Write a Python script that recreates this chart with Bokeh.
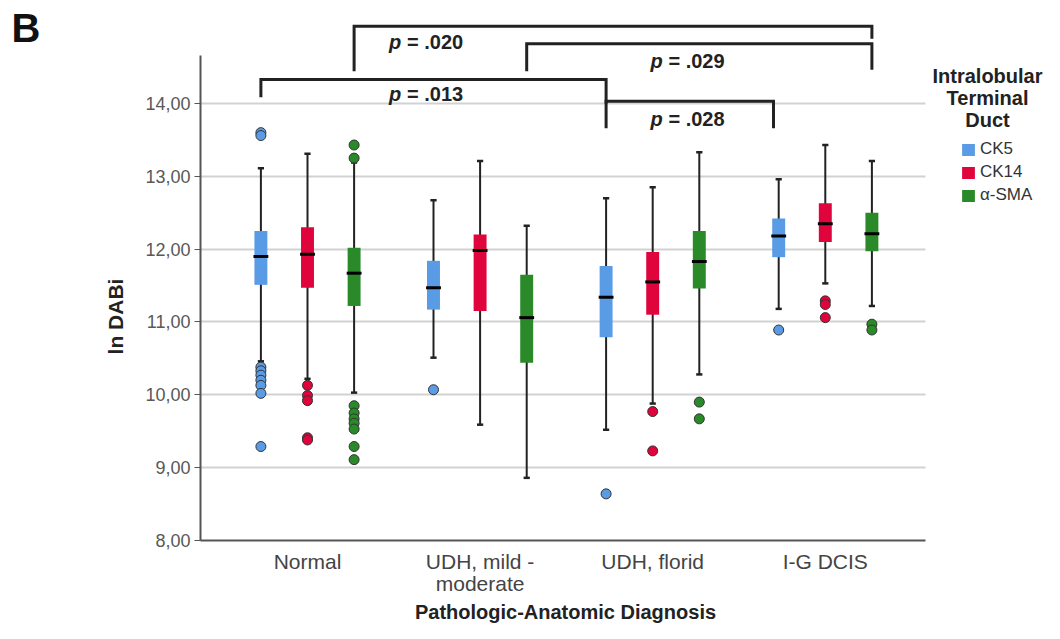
import math
from bokeh.plotting import figure
from bokeh.models import ColumnDataSource, Range1d, FixedTicker, Label, Legend, LegendItem
from bokeh.core.properties import value
from bokeh.embed import file_html
from bokeh.resources import INLINE

# ---------------- data ----------------
categories = ["Normal", "UDH, mild -\nmoderate", "UDH, florid", "I-G DCIS"]
markers = ["CK5", "CK14", "\u03b1-SMA"]
y_ticks = [8, 9, 10, 11, 12, 13, 14]
y_tick_labels = ["8,00", "9,00", "10,00", "11,00", "12,00", "13,00", "14,00"]

ck5_whisker_low = [10.46, 10.51, 9.52, 11.18]
ck5_q1 = [11.51, 11.17, 10.79, 11.89]
ck5_median = [11.90, 11.47, 11.34, 12.18]
ck5_q3 = [12.25, 11.84, 11.77, 12.42]
ck5_whisker_high = [13.11, 12.67, 12.70, 12.96]
ck5_outliers = [[13.60, 13.56, 10.38, 10.33, 10.27, 10.20, 10.13, 10.02, 9.29],
                [10.07], [8.64], [10.89]]

ck14_whisker_low = [10.22, 9.59, 9.88, 11.53]
ck14_q1 = [11.47, 11.15, 11.10, 12.10]
ck14_median = [11.93, 11.98, 11.55, 12.35]
ck14_q3 = [12.30, 12.20, 11.96, 12.63]
ck14_whisker_high = [13.31, 13.21, 12.85, 13.43]
ck14_outliers = [[10.13, 9.99, 9.92, 9.41, 9.38], [], [9.77, 9.23], [11.29, 11.24, 11.06]]

sma_whisker_low = [10.03, 8.86, 10.28, 11.22]
sma_q1 = [11.22, 10.44, 11.46, 11.97]
sma_median = [11.67, 11.06, 11.83, 12.21]
sma_q3 = [12.02, 11.65, 12.25, 12.50]
sma_whisker_high = [13.19, 12.32, 13.33, 13.21]
sma_outliers = [[13.43, 13.25, 9.85, 9.75, 9.67, 9.61, 9.53, 9.29, 9.11],
                [], [9.90, 9.67], [10.97, 10.89]]

# significance comparisons: (group a, marker a, group b, marker b, label)
comparisons = [
    (0, 2, 3, 2, ".020"),
    (1, 2, 3, 2, ".029"),
    (0, 0, 2, 0, ".013"),
    (2, 0, 3, 0, ".028"),
]

# ---------------- style ----------------
FONT = "Liberation Sans"
colors = ["#5a9be6", "#e0043c", "#2a8a2a"]
offsets = [-0.27, 0.0, 0.27]
box_w = 0.075
med_w = 0.086
cap_w = 0.036

series = [
    (ck5_whisker_low, ck5_q1, ck5_median, ck5_q3, ck5_whisker_high, ck5_outliers),
    (ck14_whisker_low, ck14_q1, ck14_median, ck14_q3, ck14_whisker_high, ck14_outliers),
    (sma_whisker_low, sma_q1, sma_median, sma_q3, sma_whisker_high, sma_outliers),
]

W, H = 1044, 623
XS, X0 = 172.6, 307.0      # px per category, px of category 0
YS, Y14 = 72.83, 103.0     # px per unit, px of value 14
X_LO, X_HI = -0.62, 3.58   # plotted area in data units
Y_LO, Y_TOP = 8.0, 14.66

p = figure(width=W, height=H, output_backend="svg", toolbar_location=None,
           x_range=Range1d(-X0 / XS, (W - X0) / XS),
           y_range=Range1d(14 - (H - Y14) / YS, 14 + Y14 / YS),
           min_border=0)
p.outline_line_color = None
p.background_fill_color = "white"

# axes (drawn at fixed data locations so that the frame fills the canvas)
p.xaxis.fixed_location = Y_LO
p.xaxis.bounds = (X_LO, X_HI)
p.xaxis.ticker = FixedTicker(ticks=list(range(len(categories))))
p.xaxis.major_label_overrides = {i: c for i, c in enumerate(categories)}
p.xaxis.major_tick_line_color = None
p.xaxis.minor_tick_line_color = None
p.xaxis.axis_line_color = "#555555"
p.xaxis.axis_line_width = 2
p.xaxis.major_label_text_font = FONT
p.xaxis.major_label_text_font_size = "21px"
p.xaxis.major_label_text_color = "#444444"
p.xaxis.major_label_text_line_height = 0.95
p.xaxis.major_label_standoff = 4

p.yaxis.fixed_location = X_LO
p.yaxis.bounds = (Y_LO, Y_TOP)
p.yaxis.ticker = FixedTicker(ticks=y_ticks)
p.yaxis.major_label_overrides = {t: l for t, l in zip(y_ticks, y_tick_labels)}
p.yaxis.major_tick_out = 6
p.yaxis.major_tick_in = 0
p.yaxis.minor_tick_line_color = None
p.yaxis.major_tick_line_color = "#555555"
p.yaxis.axis_line_color = "#555555"
p.yaxis.axis_line_width = 2
p.yaxis.major_label_text_font = FONT
p.yaxis.major_label_text_font_size = "18px"
p.yaxis.major_label_text_color = "#595959"
p.yaxis.major_label_standoff = 4

p.xgrid.grid_line_color = None
try:
    p.ygrid[0].cross_bounds = (X_LO, X_HI)
    p.ygrid.ticker = FixedTicker(ticks=y_ticks[1:])
    p.ygrid.grid_line_color = "#d2d2d2"
    p.ygrid.grid_line_width = 2
except AttributeError:
    p.ygrid.grid_line_color = None
    gy = y_ticks[1:]
    p.segment(x0=[X_LO] * len(gy), y0=gy, x1=[X_HI] * len(gy), y1=gy,
              line_color="#d2d2d2", line_width=2)

legend_items = []
for k, (wl, q1, med, q3, wh, outl) in enumerate(series):
    xs = [i + offsets[k] for i in range(len(categories))]
    src = ColumnDataSource(dict(
        x=xs, wl=wl, q1=q1, med=med, q3=q3, wh=wh,
        cl=[x - cap_w / 2 for x in xs], cr=[x + cap_w / 2 for x in xs],
        ml=[x - med_w / 2 for x in xs], mr=[x + med_w / 2 for x in xs],
    ))
    p.segment(x0="x", y0="wl", x1="x", y1="wh", source=src, line_color="#222222", line_width=2)
    p.segment(x0="cl", y0="wh", x1="cr", y1="wh", source=src, line_color="#222222", line_width=2.5)
    p.segment(x0="cl", y0="wl", x1="cr", y1="wl", source=src, line_color="#222222", line_width=2.5)
    box = p.vbar(x="x", width=box_w, bottom="q1", top="q3", source=src,
                 fill_color=colors[k], line_color=None)
    p.segment(x0="ml", y0="med", x1="mr", y1="med", source=src, line_color="black", line_width=3)
    ox, oy = [], []
    for i, vals in enumerate(outl):
        for v in vals:
            ox.append(xs[i])
            oy.append(v)
    p.scatter(ox, oy, size=10, fill_color=colors[k], line_color="#333333", line_width=1)
    legend_items.append(LegendItem(label=markers[k], renderers=[box]))

# significance brackets
bracket_geom = {  # bar level, left drop end, right drop end, label x, label y
    ".020": (15.061, 14.443, 14.888, 0.472, 14.842),
    ".029": (14.820, 14.443, 14.463, 1.987, 14.590),
    ".013": (14.330, 14.087, 14.000, 0.472, 14.133),
    ".028": (14.032, 13.661, 13.661, 1.987, 13.790),
}
bxs, bys, lx, ly, lt = [], [], [], [], []
for ga, ma, gb, mb, lab in comparisons:
    xa = ga + offsets[ma]
    xb = gb + offsets[mb]
    if lab == ".028":
        xb -= 0.03
    bar, le, re_, lxv, lyv = bracket_geom[lab]
    bxs.append([xa, xa, xb, xb])
    bys.append([le, bar, bar, re_])
    lx.append(lxv)
    ly.append(lyv)
    lt.append(lab)
p.multi_line(bxs, bys, line_color="#222222", line_width=3, line_join="miter")
p.text(x=lx, y=ly, text=["p"] * len(lt), text_font=value(FONT), text_font_style="bold italic",
       text_font_size=value("20px"), text_color="#222222", text_align="left",
       text_baseline="middle")
p.text(x=lx, y=ly, text=["= " + t for t in lt], text_font=value(FONT), text_font_style="bold",
       text_font_size=value("20px"), text_color="#222222", text_align="left",
       text_baseline="middle", x_offset=18)

# legend (location measured from the frame's bottom-left, frame = canvas)
legend = Legend(items=legend_items, location=(960, H - 205), glyph_width=16, glyph_height=15,
                label_height=15, spacing=3, padding=0, margin=0, label_standoff=4,
                label_text_font=FONT, label_text_font_size="17px", label_text_color="#333333",
                border_line_color=None, background_fill_alpha=0)
p.add_layout(legend)

def px_x(px):
    return (px - X0) / XS

def px_y(py):
    return 14 - (py - Y14) / YS

for txt, py in [("Intralobular", 75), ("Terminal", 97), ("Duct", 119)]:
    p.add_layout(Label(x=px_x(987), y=px_y(py), text=txt, text_font=FONT, text_font_style="bold",
                       text_font_size="20px", text_color="#222222", text_align="center",
                       text_baseline="middle"))

p.add_layout(Label(x=px_x(115), y=px_y(316), text="ln DABi", angle=math.pi / 2, text_font=FONT,
                   text_font_style="bold", text_font_size="21px", text_color="#222222",
                   text_align="center", text_baseline="middle"))
p.add_layout(Label(x=px_x(565), y=px_y(611), text="Pathologic-Anatomic Diagnosis", text_font=FONT,
                   text_font_style="bold", text_font_size="20px", text_color="#222222",
                   text_align="center", text_baseline="middle"))
p.add_layout(Label(x=px_x(11), y=px_y(27), text="B", text_font=FONT, text_font_style="bold",
                   text_font_size="40px", text_color="#111111", text_align="left",
                   text_baseline="middle"))

open("out.html", "w").write(file_html(p, INLINE))
